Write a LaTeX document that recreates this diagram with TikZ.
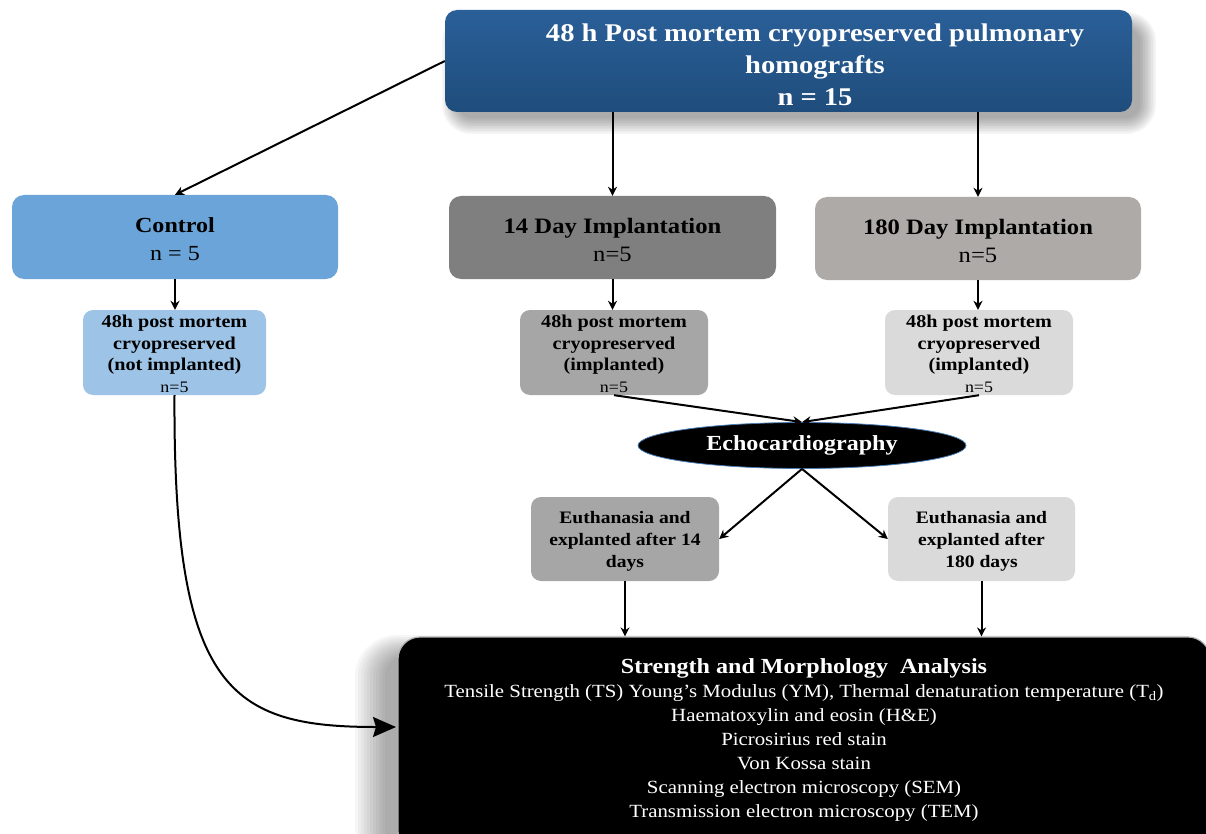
\documentclass[tikz,border=0pt]{standalone}
\usepackage{fontspec}
\setmainfont{Liberation Serif}[FakeStretch=1.12]
\usetikzlibrary{arrows.meta,shapes.geometric}
\definecolor{topblue}{HTML}{1F4D7C}
\definecolor{topblueL}{HTML}{2A5F98}
\definecolor{ctrlblue}{HTML}{6AA4D8}
\definecolor{subblue}{HTML}{9DC3E6}
\definecolor{gdark}{HTML}{7F7F7F}
\definecolor{gwarm}{HTML}{AEAAA8}
\definecolor{gmid}{HTML}{A6A6A6}
\definecolor{glight}{HTML}{DADADA}
\definecolor{ellborder}{HTML}{4A7DB5}
\tikzset{
  arr/.style={line width=2pt,-{Stealth[length=9pt,width=9pt]}},
  bigarr/.style={line width=2pt,-{Stealth[length=23pt,width=20pt,inset=3pt]}},
  bigbox/.style={rectangle,rounded corners=12pt,draw=none,inner sep=0pt},
  subbox/.style={rectangle,rounded corners=10pt,draw=none,inner sep=0pt},
  lbl/.style={align=center,inner sep=0pt},
  shadowlayer/.style={fill=black,opacity=0.035},
}
\begin{document}
\begin{tikzpicture}[x=1pt,y=-1pt]
\useasboundingbox (0,0) rectangle (1206,834);
% soft shadows
\foreach \i in {0,...,10}{
  \fill[shadowlayer,rounded corners={14pt+\i*1.5pt}] (458-\i*1.6,28-\i*1.6) rectangle (1140+\i*1.6,118+\i*1.6);
  \fill[shadowlayer,rounded corners={22pt+\i*2pt}] (385-\i*3,655-\i*2) rectangle (1200+\i*2,870);
}
% top box
\node[bigbox,minimum width=687pt,minimum height=102pt,top color=topblueL,bottom color=topblue] (top) at (788.5,61) {};
\node[lbl,text=white,font=\fontsize{25.5}{32}\selectfont\bfseries] (toptxt) at (815,65)
  {48 h Post mortem cryopreserved pulmonary\\homografts\\n = 15};
% level 2
\node[bigbox,minimum width=326pt,minimum height=84pt,fill=ctrlblue] (ctrl) at (175,237) {};
\node[lbl,font=\fontsize{21.5}{28}\selectfont] (ctrltxt) at (175,239) {\textbf{Control}\\n = 5};
\node[bigbox,minimum width=327pt,minimum height=83pt,fill=gdark] (d14) at (612.5,237.5) {};
\node[lbl,font=\fontsize{22}{28}\selectfont] (d14txt) at (612.5,240) {\textbf{14 Day Implantation}\\n=5};
\node[bigbox,minimum width=326pt,minimum height=83pt,fill=gwarm] (d180) at (978,238.5) {};
\node[lbl,font=\fontsize{22}{28}\selectfont] (d180txt) at (978,241) {\textbf{180 Day Implantation}\\n=5};
% level 3
\node[subbox,minimum width=183pt,minimum height=85pt,fill=subblue] (sc) at (174.5,352.5) {};
\node[lbl,font=\fontsize{18}{21.5}\selectfont] (sctxt) at (174.5,354)
  {\textbf{48h post mortem}\\\textbf{cryopreserved}\\\textbf{(not implanted)}\\{\fontsize{16}{21.5}\selectfont n=5}};
\node[subbox,minimum width=188pt,minimum height=85pt,fill=gmid] (s14) at (614,352.5) {};
\node[lbl,font=\fontsize{18}{21.5}\selectfont] (s14txt) at (614,354)
  {\textbf{48h post mortem}\\\textbf{cryopreserved}\\\textbf{(implanted)}\\{\fontsize{16}{21.5}\selectfont n=5}};
\node[subbox,minimum width=188pt,minimum height=85pt,fill=glight] (s180) at (979,352.5) {};
\node[lbl,font=\fontsize{18}{21.5}\selectfont] (s180txt) at (979,354)
  {\textbf{48h post mortem}\\\textbf{cryopreserved}\\\textbf{(implanted)}\\{\fontsize{16}{21.5}\selectfont n=5}};
% ellipse
\node[ellipse,minimum width=328pt,minimum height=46pt,fill=black,draw=ellborder,line width=0.8pt,
  inner sep=0pt,text=white,font=\fontsize{21.5}{24}\selectfont\bfseries] (echo) at (802,445.5) {Echocardiography};
% euthanasia
\node[subbox,minimum width=188pt,minimum height=84pt,fill=gmid] (e14) at (625,539) {};
\node[lbl,font=\fontsize{17.5}{22}\selectfont\bfseries] (e14txt) at (625,541)
  {Euthanasia and\\explanted after 14\\days};
\node[subbox,minimum width=187pt,minimum height=84pt,fill=glight] (e180) at (981.5,539) {};
\node[lbl,font=\fontsize{17.5}{22}\selectfont\bfseries] (e180txt) at (981.5,541)
  {Euthanasia and\\explanted after\\180 days};
% bottom box
\node[rectangle,rounded corners=22pt,fill=black,draw=gray!60,line width=1.2pt,minimum width=812pt,minimum height=216pt] (bot) at (804,745) {};
\node[lbl,text=white,font=\fontsize{18.6}{24}\selectfont] (bottxt) at (804,740)
  {{\fontsize{21.5}{24}\selectfont\bfseries Strength and Morphology\ \ Analysis}\\
   Tensile Strength (TS) Young’s Modulus (YM), Thermal denaturation temperature (T\textsubscript{d})\\
   Haematoxylin and eosin (H\&E)\\
   Picrosirius red stain\\
   Von Kossa stain\\
   Scanning electron microscopy (SEM)\\
   Transmission electron microscopy (TEM)};
\coordinate (botin) at (396,727);
% connectors
\draw[arr] (top.west) -- (ctrl.north);
\draw[arr] (top.south -| d14.north) -- (d14.north);
\draw[arr] (top.south -| d180.north) -- (d180.north);
\draw[arr] (ctrl.south) -- (ctrl.south |- sc.north);
\draw[arr] (d14.south) -- (d14.south |- s14.north);
\draw[arr] (d180.south) -- (d180.south |- s180.north);
\draw[arr] (s14.south) -- (echo.north);
\draw[arr] (s180.south) -- (echo.north);
\draw[arr] (echo.south) -- (e14.east);
\draw[arr] (echo.south) -- (e180.west);
\draw[arr] (e14.south) -- (e14.south |- bot.north);
\draw[arr] (e180.south) -- (e180.south |- bot.north);
\draw[bigarr] (sc.south) .. controls (173,690) and (230,727) .. (botin);
\end{tikzpicture}
\end{document}
